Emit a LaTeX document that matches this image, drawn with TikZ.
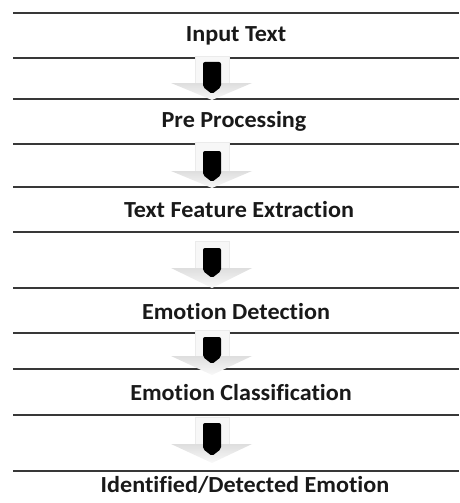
\documentclass[tikz,border=0pt]{standalone}
\usepackage{fontspec}
\setmainfont{Carlito}[Ligatures=NoCommon, FakeStretch=1.05]
\begin{document}
\begin{tikzpicture}[x={(1pt,0)},y={(0,-1pt)},
  rule/.style={line width=1.6pt, draw=black!78},
  label/.style={font=\bfseries\fontsize{23}{27}\selectfont, text=black!90, inner sep=0pt, anchor=center},
  shaftfill/.style={fill=gray!6, draw=gray!16, line width=0.4pt},
  headfill/.style={top color=gray!26, bottom color=gray!5, draw=none},
  blackpiece/.style={fill=black, rounded corners=2pt}]
\useasboundingbox (0,0) rectangle (459,503);
% args: shaft top, head top, tip, black top, black bottom
\newcommand\flowarrow[5]{%
  \path[shaftfill] (195,#1) rectangle (229,#2);
  \path[headfill] (171,#2) -- (252,#2) -- (212,#3) -- cycle;
  \path[blackpiece] (203,#5-7) -- (203,#4) -- (221,#4) -- (221,#5-7) -- (212,#5) -- cycle;
}
% rules
\foreach \yy in {13,58,99,144,187,232,288,333,369,415,471}
  \draw[rule] (13,\yy) -- (459,\yy);
% arrows
\flowarrow{56}{83}{100}{62}{94}
\flowarrow{142}{171}{188}{151}{182}
\flowarrow{241}{268}{288}{248}{278}
\flowarrow{330}{356}{375}{337}{364}
\flowarrow{417}{444}{463}{423}{456}
% labels
\node[label] (t1) at (236,36) {Input Text};
\node[label] (t2) at (234,121) {Pre Processing};
\node[label] (t3) at (239,210) {Text Feature Extraction};
\node[label] (t4) at (236,312) {Emotion Detection};
\node[label] (t5) at (241,393) {Emotion Classification};
\node[label] (t6) at (245,485) {Identified/Detected Emotion};
\end{tikzpicture}
\end{document}
